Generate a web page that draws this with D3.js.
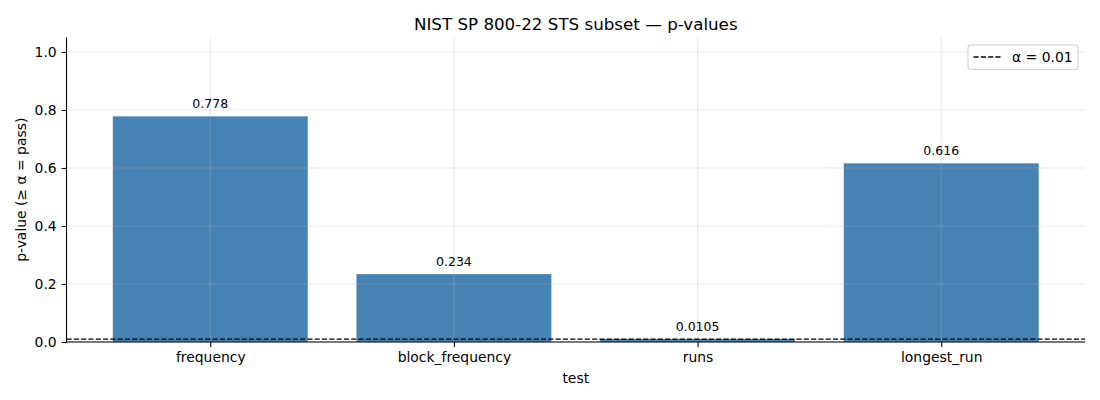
<!DOCTYPE html>
<html>
<head>
<meta charset="utf-8">
<script src="https://cdn.jsdelivr.net/npm/d3@7"></script>
<style>
  body { margin: 0; background: #fff; }
  svg text { font-family: "DejaVu Sans", sans-serif; fill: #000; }
</style>
</head>
<body>
<div id="viz"></div>
<script>
const tests = ['frequency', 'block_frequency', 'runs', 'longest_run'];
const pValues = [0.778, 0.234, 0.0105, 0.616];
const barLabels = ['0.778', '0.234', '0.0105', '0.616'];
const yTicks = [0.0, 0.2, 0.4, 0.6, 0.8, 1.0];
const alpha = 0.01;

const width = 1100;
const height = 400;
const margin = {top: 37.5, right: 15, bottom: 58, left: 66.5};
const barColor = '#4682b4';
const dash = '5.1,2.2';

const svg = d3.select('#viz')
  .append('svg')
  .attr('width', width)
  .attr('height', height);

// X scale: bar positions 0..n-1, width 0.8, matplotlib 5% margins
const n = tests.length;
const lo = -0.4, hi = n - 1 + 0.4;
const pad = (hi - lo) * 0.05;
const xScale = d3.scaleLinear()
  .domain([lo - pad, hi + pad])
  .range([margin.left, width - margin.right]);

const yScale = d3.scaleLinear()
  .domain([0, 1.05])
  .range([height - margin.bottom, margin.top]);

const y0 = yScale(0);

// bars
svg.append('g')
  .selectAll('rect')
  .data(pValues)
  .join('rect')
    .attr('x', (d, i) => xScale(i - 0.4))
    .attr('width', (d, i) => xScale(i + 0.4) - xScale(i - 0.4))
    .attr('y', d => yScale(d))
    .attr('height', d => y0 - yScale(d))
    .attr('fill', barColor);

// grid (drawn over bars like the reference)
const grid = svg.append('g');
grid.selectAll('.hgrid')
  .data(yTicks)
  .join('line')
    .attr('x1', margin.left)
    .attr('x2', width - margin.right)
    .attr('y1', d => yScale(d))
    .attr('y2', d => yScale(d))
    .attr('stroke', '#b0b0b0')
    .attr('stroke-opacity', 0.3)
    .attr('stroke-width', 1.1);
grid.selectAll('.vgrid')
  .data(tests)
  .join('line')
    .attr('x1', (d, i) => xScale(i))
    .attr('x2', (d, i) => xScale(i))
    .attr('y1', margin.top)
    .attr('y2', y0)
    .attr('stroke', '#b0b0b0')
    .attr('stroke-opacity', 0.3)
    .attr('stroke-width', 1.1);

// alpha threshold line
svg.append('line')
  .attr('x1', margin.left)
  .attr('x2', width - margin.right)
  .attr('y1', yScale(alpha))
  .attr('y2', yScale(alpha))
  .attr('stroke', '#000')
  .attr('stroke-width', 1.4)
  .attr('stroke-dasharray', dash);

// value labels
svg.append('g')
  .selectAll('text')
  .data(pValues)
  .join('text')
    .attr('x', (d, i) => xScale(i))
    .attr('y', d => yScale(d) - 8)
    .attr('text-anchor', 'middle')
    .style('font-size', '12.5px')
    .text((d, i) => barLabels[i]);

// axes
const xAxis = svg.append('g')
  .attr('transform', `translate(0, ${y0})`)
  .call(d3.axisBottom(xScale)
    .tickValues(d3.range(n))
    .tickFormat(i => tests[i])
    .tickSize(4.9)
    .tickPadding(4.9)
    .tickSizeOuter(0));

const yAxis = svg.append('g')
  .attr('transform', `translate(${margin.left}, 0)`)
  .call(d3.axisLeft(yScale)
    .tickValues(yTicks)
    .tickFormat(d3.format('.1f'))
    .tickSize(4.9)
    .tickPadding(4.9)
    .tickSizeOuter(0));

[xAxis, yAxis].forEach(ax => {
  ax.selectAll('text').style('font-size', '13.9px').style('font-family', '"DejaVu Sans", sans-serif');
  ax.selectAll('line').attr('stroke', '#000').attr('stroke-width', 1.1);
  ax.select('.domain').attr('stroke', '#000').attr('stroke-width', 1.1);
});
xAxis.select('.domain').attr('d', `M${margin.left},0H${width - margin.right}`);
yAxis.select('.domain').attr('d', `M0,${y0}V${margin.top}`);

// titles
svg.append('text')
  .attr('x', (margin.left + width - margin.right) / 2)
  .attr('y', 30)
  .attr('text-anchor', 'middle')
  .style('font-size', '16.7px')
  .text('NIST SP 800-22 STS subset — p-values');

svg.append('text')
  .attr('x', (margin.left + width - margin.right) / 2)
  .attr('y', 383)
  .attr('text-anchor', 'middle')
  .style('font-size', '13.9px')
  .text('test');

svg.append('text')
  .attr('transform', `translate(26, ${(margin.top + y0) / 2}) rotate(-90)`)
  .attr('text-anchor', 'middle')
  .style('font-size', '13.9px')
  .text('p-value (≥ α = pass)');

// legend
const legend = svg.append('g').attr('transform', 'translate(968, 45)');
legend.append('rect')
  .attr('width', 110)
  .attr('height', 24.5)
  .attr('rx', 3)
  .attr('fill', '#fff')
  .attr('fill-opacity', 0.8)
  .attr('stroke', '#d0d0d0')
  .attr('stroke-width', 1.1);
legend.append('line')
  .attr('x1', 5.5)
  .attr('x2', 33.5)
  .attr('y1', 12)
  .attr('y2', 12)
  .attr('stroke', '#000')
  .attr('stroke-width', 1.4)
  .attr('stroke-dasharray', dash);
legend.append('text')
  .attr('x', 44)
  .attr('y', 17)
  .style('font-size', '13.9px')
  .text('α = 0.01');
</script>
</body>
</html>
